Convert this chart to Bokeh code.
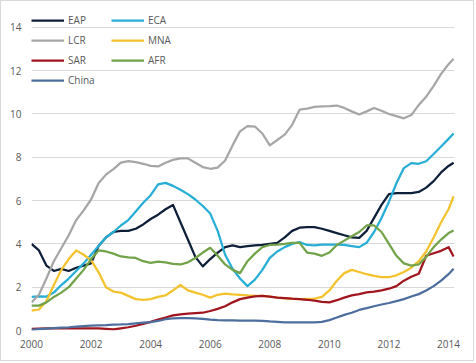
from bokeh.plotting import figure
from bokeh.models import FixedTicker, Legend, LegendItem, Range1d
from bokeh.embed import file_html
from bokeh.resources import INLINE

# quarterly observations 2000Q1 .. 2014Q1, plus a final reading early 2014
years = [2000 + i / 4 for i in range(57)] + [2014.17]

EAP = [4.0, 3.7, 3.0, 2.75,
       2.85, 2.75, 2.9, 3.0,
       3.1, 3.9, 4.3, 4.55,
       4.6, 4.6, 4.7, 4.9,
       5.15, 5.35, 5.6, 5.8,
       5.0, 4.2, 3.4, 2.96,
       3.3, 3.6, 3.85, 3.93,
       3.85, 3.9, 3.93, 3.95,
       4.0, 4.05, 4.3, 4.6,
       4.75, 4.77, 4.77, 4.7,
       4.6, 4.5, 4.4, 4.3,
       4.28, 4.6, 5.2, 5.8,
       6.3, 6.35, 6.34, 6.35,
       6.4, 6.6, 6.9, 7.3,
       7.6, 7.75]
ECA = [1.55, 1.58, 1.57, 1.75,
       2.1, 2.4, 2.75, 3.1,
       3.5, 3.9, 4.3, 4.55,
       4.85, 5.1, 5.5, 5.9,
       6.25, 6.75, 6.82, 6.68,
       6.5, 6.3, 6.05, 5.75,
       5.4, 4.6, 3.5, 2.85,
       2.4, 2.05, 2.35, 2.8,
       3.35, 3.65, 3.85, 4.0,
       4.08, 3.95, 3.93, 3.97,
       3.97, 3.97, 3.95, 3.9,
       3.85, 4.05, 4.55, 5.2,
       5.95, 6.8, 7.5, 7.73,
       7.7, 7.82, 8.15, 8.5,
       8.85, 9.1]
LCR = [1.3, 1.65, 2.4, 3.2,
       3.8, 4.4, 5.1, 5.55,
       6.05, 6.8, 7.2, 7.45,
       7.75, 7.82, 7.78, 7.7,
       7.6, 7.58, 7.75, 7.88,
       7.95, 7.95, 7.75, 7.55,
       7.47, 7.52, 7.85, 8.55,
       9.2, 9.44, 9.42, 9.1,
       8.55, 8.8, 9.05, 9.5,
       10.2, 10.25, 10.33, 10.35,
       10.36, 10.39, 10.28, 10.12,
       9.98, 10.12, 10.28, 10.15,
       10.0, 9.9, 9.8, 9.95,
       10.42, 10.8, 11.3, 11.85,
       12.3, 12.55]
MNA = [0.92, 0.97, 1.35, 2.1,
       2.8, 3.3, 3.7, 3.5,
       3.25, 2.7, 2.0, 1.8,
       1.75, 1.6, 1.45, 1.42,
       1.45, 1.55, 1.62, 1.85,
       2.1, 1.85, 1.75, 1.65,
       1.52, 1.65, 1.7, 1.67,
       1.65, 1.62, 1.6, 1.6,
       1.57, 1.52, 1.48, 1.46,
       1.45, 1.46, 1.47, 1.55,
       1.85, 2.3, 2.65, 2.8,
       2.7, 2.6, 2.52, 2.47,
       2.46, 2.55, 2.7, 2.9,
       3.2, 3.65, 4.3, 5.0,
       5.6, 6.2]
SAR = [0.08, 0.09, 0.1, 0.1,
       0.1, 0.1, 0.1, 0.1,
       0.1, 0.1, 0.08, 0.05,
       0.1, 0.15, 0.22, 0.3,
       0.4, 0.5, 0.6, 0.7,
       0.75, 0.78, 0.8, 0.82,
       0.9, 1.0, 1.12, 1.3,
       1.45, 1.52, 1.58, 1.6,
       1.56, 1.52, 1.5, 1.47,
       1.45, 1.42, 1.38, 1.32,
       1.3, 1.4, 1.52, 1.62,
       1.68, 1.76, 1.8, 1.85,
       1.93, 2.05, 2.3, 2.48,
       2.62, 3.45, 3.57, 3.68,
       3.85, 3.42]
AFR = [1.15, 1.15, 1.3, 1.55,
       1.75, 2.0, 2.4, 2.8,
       3.3, 3.7, 3.65, 3.55,
       3.42, 3.38, 3.35, 3.2,
       3.12, 3.18, 3.15, 3.08,
       3.05, 3.15, 3.35, 3.6,
       3.82, 3.45, 3.05, 2.8,
       2.65, 3.2, 3.55, 3.85,
       3.95, 3.97, 4.0, 4.05,
       4.05, 3.6, 3.55, 3.45,
       3.6, 3.95, 4.15, 4.35,
       4.55, 4.85, 4.85, 4.55,
       4.0, 3.45, 3.1, 3.0,
       3.05, 3.4, 3.85, 4.2,
       4.5, 4.62]
China = [0.03, 0.06, 0.09, 0.11,
         0.13, 0.15, 0.18, 0.2,
         0.22, 0.24, 0.25, 0.27,
         0.28, 0.3, 0.33, 0.36,
         0.39, 0.44, 0.52, 0.56,
         0.57, 0.57, 0.56, 0.54,
         0.5, 0.48, 0.47, 0.47,
         0.46, 0.46, 0.46, 0.45,
         0.42, 0.4, 0.38, 0.38,
         0.38, 0.38, 0.38, 0.4,
         0.48, 0.6, 0.72, 0.82,
         0.95, 1.03, 1.12, 1.2,
         1.27, 1.36, 1.45, 1.57,
         1.68, 1.85, 2.05, 2.3,
         2.6, 2.85]

series_names = ["EAP", "ECA", "LCR", "MNA", "SAR", "AFR", "China"]
series_values = [EAP, ECA, LCR, MNA, SAR, AFR, China]
series_colors = ["#0e1f3a", "#27aed6", "#a6a6a6", "#f3c22d", "#a1151f", "#72a24a", "#4e6e9e"]
x_ticks = [2000, 2002, 2004, 2006, 2008, 2010, 2012, 2014]
y_ticks = [0, 2, 4, 6, 8, 10, 12, 14]

FONT = "Open Sans"
TXT = "#595959"

p = figure(width=474, height=361, output_backend="svg", toolbar_location=None,
           x_range=Range1d(2000, 2014.2), y_range=Range1d(0, 14.78),
           min_border_left=30, min_border_right=21, min_border_top=9, min_border_bottom=32)
p.styles = {"border": "1px solid #d9d9d9"}
p.outline_line_color = None
p.background_fill_color = "white"
p.border_fill_color = "white"

p.xgrid.grid_line_color = None
p.ygrid.grid_line_color = "#d9d9d9"
p.ygrid.grid_line_width = 1
p.ygrid.ticker = FixedTicker(ticks=y_ticks)

for ax in (p.xaxis[0], p.yaxis[0]):
    ax.axis_line_color = None
    ax.major_tick_line_color = None
    ax.minor_tick_line_color = None
    ax.major_tick_out = 0
    ax.major_tick_in = 0
    ax.minor_tick_out = 0
    ax.major_label_text_font = FONT
    ax.major_label_text_font_size = "10px"
    ax.major_label_text_color = TXT
p.xaxis.ticker = FixedTicker(ticks=x_ticks)
p.yaxis.ticker = FixedTicker(ticks=y_ticks)
p.xaxis.major_label_standoff = 9
p.yaxis.major_label_standoff = 10

renderers = {}
for name, vals, col in zip(series_names, series_values, series_colors):
    renderers[name] = p.line(years, vals, line_color=col, line_width=2.25, line_join="round")

# legend fills column-major: left column EAP, LCR, SAR, China; right column ECA, MNA, AFR
legend_order = ["EAP", "LCR", "SAR", "China", "ECA", "MNA", "AFR"]
items = [LegendItem(label=n, renderers=[renderers[n]]) for n in legend_order]

legend = Legend(items=items, location="top_left", ncols=2,
                glyph_width=33, glyph_height=20, label_height=20, label_width=43,
                label_standoff=4, spacing=0, padding=2, margin=0,
                label_text_font=FONT, label_text_font_size="10px", label_text_color=TXT,
                border_line_color=None, background_fill_alpha=0)
p.add_layout(legend)

open("out.html", "w").write(file_html(p, INLINE))
